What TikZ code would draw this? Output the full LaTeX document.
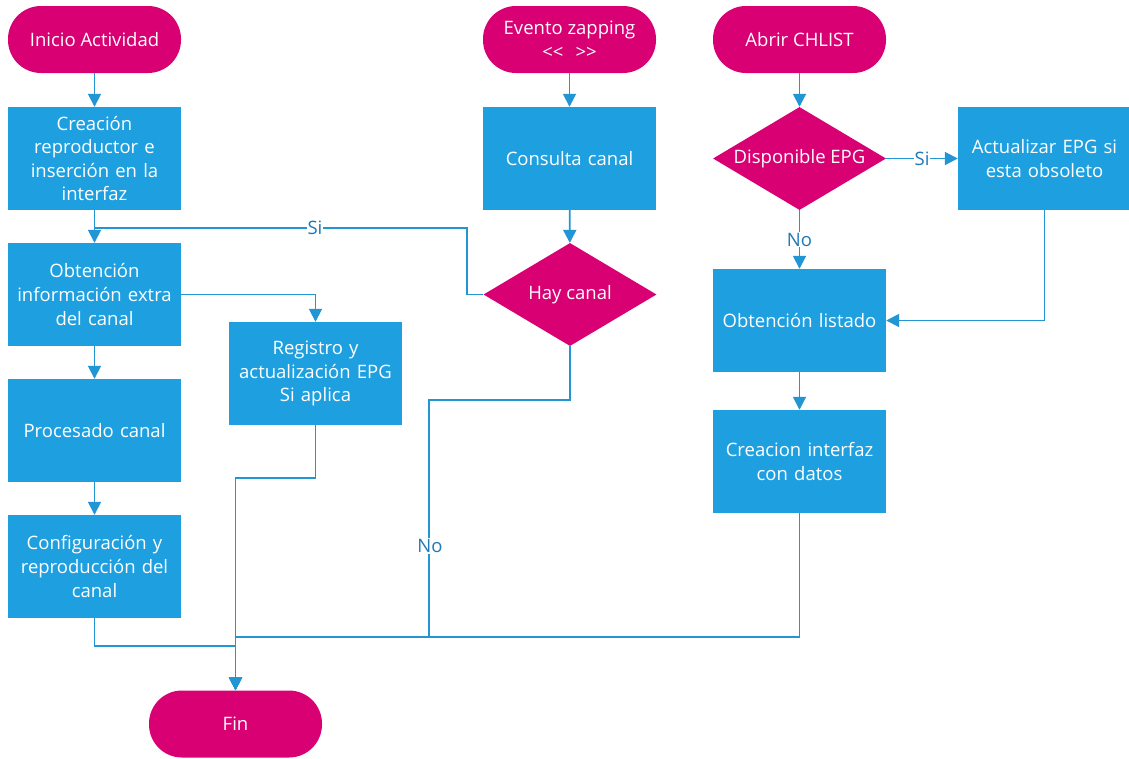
\documentclass[tikz,border=0pt]{standalone}
\usepackage{fontspec}
\setmainfont{Open Sans}
\usetikzlibrary{shapes.geometric,arrows.meta}
\definecolor{mag}{RGB}{216,0,115}
\definecolor{bfill}{RGB}{30,160,224}
\definecolor{lcol}{RGB}{34,150,212}
\definecolor{lab}{RGB}{31,122,184}
\begin{document}
\begin{tikzpicture}[x=1pt,y=-1pt,
 every node/.style={font=\fontsize{18.5}{23.6}\selectfont},
 term/.style={fill=mag, rounded corners=33pt, minimum width=173pt, minimum height=67pt, text=white, inner sep=0pt, align=center},
 proc/.style={fill=bfill, minimum width=173pt, minimum height=103pt, text=white, text width=170pt, align=center, inner sep=0pt},
 dec/.style={diamond, fill=mag, minimum width=173pt, minimum height=103pt, inner sep=0pt},
 dtxt/.style={text=white, inner sep=0pt},
 conn/.style={draw=lcol, line width=1.8pt},
 arr/.style={conn, -{Triangle[width=13pt,length=13pt]}},
 lbl/.style={fill=white, text=lab, inner sep=1pt}]
\useasboundingbox (0,0) rectangle (1129,758);
% left column
\node[term] (inicio) at (94.5,39.5) {Inicio Actividad};
\node[proc] (crea) at (94.5,158.5) {Creación\\reproductor e\\inserción en la\\interfaz};
\node[proc] (obt) at (94.5,294.5) {Obtención\\información extra\\del canal};
\node[proc] (procc) at (94.5,430.5) {Procesado canal};
\node[proc] (conf) at (94.5,566.5) {Configuración y\\reproducción del\\canal};
\node[proc] (reg) at (315.5,373.5) {Registro y\\actualización EPG\\Si aplica};
\node[term] (fin) at (235.5,724) {Fin};
% middle column
\node[term] (evento) at (569.5,39.5) {Evento zapping\\{<}{<}\hspace{12pt}{>}{>}};
\node[proc] (cons) at (569.5,158.5) {Consulta canal};
\node[dec] (hay) at (570,294.5) {};
\node[dtxt] (hayt) at (hay) {Hay canal};
% right column
\node[term] (abrir) at (799.5,39.5) {Abrir CHLIST};
\node[dec] (disp) at (799.5,158.5) {};
\node[dtxt] (dispt) at (disp) {Disponible EPG};
\node[proc] (act) at (1044.5,158.5) {Actualizar EPG si\\esta obsoleto};
\node[proc] (list) at (799.5,320.5) {Obtención listado};
\node[proc] (cint) at (799.5,461.5) {Creacion interfaz\\con datos};
% connectors
\coordinate (sij) at (94.5,228);
\draw[arr] (inicio) -- (crea);
\draw[arr] (crea) -- (obt);
\draw[arr] (obt) -- (procc);
\draw[arr] (procc) -- (conf);
\draw[arr] (obt.east) -| (reg.north);
\draw[conn] (hay.west) -- ++(-16,0) |- (sij);
\node[lbl] (si1) at (315,228) {Si};
\draw[arr] (conf.south) -- ++(0,28) -| (fin.north);
\draw[arr] (reg.south) -- ++(0,53) -| (fin.north);
\draw[arr] (hay.south) |- (429,400) -- (429,637) -| (fin.north);
\node[lbl] (no1) at (430,546) {No};
\draw[arr] (cint.south) -- (799.5,637) -| (fin.north);
\draw[arr] (evento) -- (cons);
\draw[arr] (cons) -- (hay);
\draw[arr] (abrir) -- (disp);
\draw[arr] (disp) -- (act) node[lbl, midway] (si2) {Si};
\draw[arr] (disp) -- (list) node[lbl, midway] (no2) {No};
\draw[arr] (act.south) |- (list.east);
\draw[arr] (list) -- (cint);
\end{tikzpicture}
\end{document}
